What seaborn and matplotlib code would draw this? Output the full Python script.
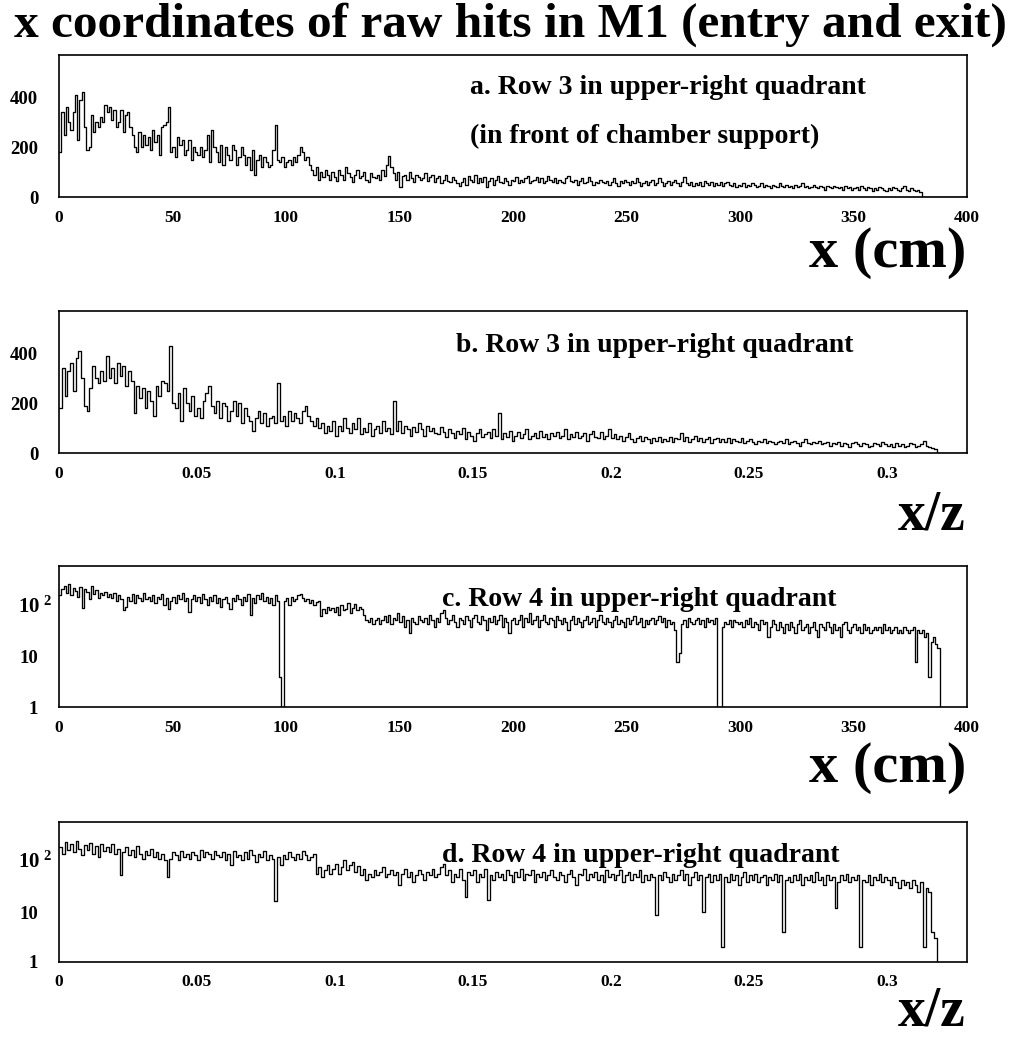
import numpy as np
import pandas as pd
import matplotlib
matplotlib.use("Agg")
import matplotlib.pyplot as plt
import matplotlib.transforms as mtransforms
from matplotlib.ticker import MultipleLocator, FixedLocator, FixedFormatter, NullFormatter
import seaborn as sns

# --- data (counts per bin) ---
bin_cm = 1.0      # bin width for the x (cm) histograms
bin_xz = 0.001    # bin width for the x/z histograms

# a. Row 3, x in cm (0..379 cm, then empty bins up to 400)
row3_cm = [
    180, 340, 250, 360, 300, 270, 340, 410, 230, 390, 420, 280, 190, 200, 330, 260, 300, 280, 320, 300,
    370, 340, 360, 310, 350, 280, 300, 350, 260, 330, 340, 280, 250, 200, 180, 260, 200, 250, 210, 240,
    190, 270, 220, 250, 170, 280, 290, 300, 360, 180, 200, 160, 240, 210, 230, 170, 190, 230, 150, 200,
    180, 170, 200, 160, 190, 250, 140, 270, 200, 180, 140, 210, 130, 200, 170, 150, 210, 190, 130, 160,
    200, 170, 130, 160, 110, 190, 90, 150, 170, 120, 160, 140, 120, 130, 190, 290, 150, 140, 160, 120,
    140, 150, 130, 160, 140, 170, 200, 180, 150, 160, 130, 110, 90, 120, 70, 100, 80, 110, 90, 70,
    100, 80, 65, 110, 90, 70, 120, 95, 80, 60, 90, 110, 75, 85, 100, 70, 60, 95, 80, 75,
    90, 70, 110, 85, 130, 165, 120, 95, 70, 100, 40, 85, 90, 70, 100, 75, 60, 90, 80, 70,
    75, 95, 65, 80, 90, 60, 75, 85, 55, 70, 90, 65, 60, 80, 70, 55, 45, 60, 75, 50,
    85, 70, 60, 90, 55, 75, 60, 80, 40, 65, 75, 50, 70, 85, 60, 55, 75, 65, 50, 70,
    65, 80, 55, 70, 60, 75, 85, 55, 65, 70, 80, 60, 75, 55, 65, 85, 70, 60, 75, 55,
    70, 60, 55, 75, 85, 65, 60, 70, 50, 65, 75, 55, 60, 80, 65, 50, 60, 55, 70, 60,
    55, 65, 50, 60, 75, 55, 45, 65, 55, 70, 60, 50, 65, 55, 75, 60, 45, 55, 65, 50,
    60, 70, 50, 55, 75, 60, 45, 55, 65, 50, 60, 70, 55, 45, 60, 80, 55, 50, 60, 45,
    55, 50, 60, 45, 65, 55, 50, 60, 45, 55, 50, 60, 45, 55, 60, 50, 45, 55, 40, 50,
    45, 55, 40, 50, 45, 55, 50, 40, 45, 55, 40, 50, 45, 35, 50, 45, 40, 55, 45, 40,
    50, 40, 45, 35, 50, 40, 45, 55, 40, 45, 35, 40, 50, 40, 35, 45, 40, 30, 45, 40,
    35, 45, 40, 35, 40, 30, 45, 35, 40, 30, 35, 40, 30, 45, 35, 30, 40, 35, 25, 35,
    30, 40, 35, 30, 25, 35, 30, 40, 35, 30, 25, 35, 45, 30, 25, 35, 30, 25, 30, 20,
    0, 0, 0, 0, 0, 0, 0, 0, 0, 0, 0, 0, 0, 0, 0, 0, 0, 0, 0, 0,
]

# b. Row 3, x/z (0..0.318, then empty bins)
row3_xz = [
    180, 340, 230, 330, 360, 250, 380, 410, 300, 190, 170, 260, 350, 300, 280, 330, 290, 390, 300, 340,
    280, 360, 310, 350, 270, 330, 290, 160, 270, 220, 260, 180, 250, 210, 150, 270, 230, 290, 280, 250,
    430, 200, 180, 240, 130, 260, 200, 170, 230, 150, 180, 140, 210, 240, 270, 190, 160, 210, 140, 200,
    190, 130, 170, 210, 150, 200, 120, 180, 150, 130, 90, 140, 170, 120, 160, 110, 140, 150, 120, 280,
    130, 150, 110, 170, 130, 160, 140, 120, 170, 190, 150, 130, 110, 140, 100, 120, 80, 110, 90, 130,
    70, 110, 90, 140, 100, 80, 120, 95, 140, 75, 100, 85, 120, 70, 95, 110, 80, 130, 90, 100,
    75, 210, 90, 130, 80, 110, 95, 70, 105, 85, 120, 95, 70, 110, 90, 100, 80, 75, 105, 85,
    65, 95, 80, 60, 90, 75, 100, 55, 85, 70, 50, 80, 95, 65, 75, 85, 60, 95, 70, 160,
    55, 80, 65, 90, 50, 70, 85, 60, 75, 95, 55, 70, 80, 60, 90, 65, 75, 55, 80, 70,
    85, 60, 70, 95, 55, 75, 65, 85, 60, 70, 80, 50, 75, 90, 65, 60, 85, 55, 70, 95,
    60, 75, 55, 70, 50, 65, 80, 55, 45, 60, 70, 50, 65, 55, 40, 60, 50, 65, 45, 55,
    50, 65, 45, 60, 55, 80, 50, 65, 45, 55, 70, 50, 60, 45, 55, 65, 40, 55, 60, 45,
    55, 45, 60, 40, 55, 50, 45, 60, 40, 50, 55, 45, 35, 50, 45, 55, 40, 50, 45, 35,
    45, 50, 40, 55, 35, 45, 50, 40, 30, 45, 55, 40, 35, 45, 40, 50, 35, 40, 45, 30,
    40, 35, 45, 30, 40, 35, 25, 40, 45, 35, 30, 40, 35, 25, 30, 40, 35, 30, 45, 35,
    30, 35, 25, 40, 30, 35, 25, 30, 40, 35, 25, 30, 35, 50, 30, 25, 20, 15,
    0, 0, 0, 0, 0, 0, 0, 0, 0, 0, 0, 0,
]

# c. Row 4, x in cm (0..387 cm, then empty bins)
row4_cm = [
    170, 230, 260, 190, 280, 170, 240, 210, 160, 250, 95, 230, 200, 140, 260, 180, 220, 150, 190, 170,
    200, 160, 180, 150, 190, 130, 170, 140, 85, 100, 160, 130, 180, 120, 170, 150, 130, 190, 140, 160,
    130, 170, 120, 160, 140, 180, 110, 150, 90, 130, 160, 120, 170, 140, 190, 130, 150, 80, 140, 170,
    130, 160, 120, 180, 140, 110, 160, 130, 170, 120, 150, 100, 140, 160, 120, 90, 150, 130, 170, 140,
    110, 160, 130, 180, 70, 150, 120, 170, 140, 190, 130, 160, 120, 150, 110, 170, 130, 4, 1, 130,
    150, 110, 160, 130, 140, 170, 180, 150, 130, 140, 120, 135, 110, 125, 130, 65, 90, 75, 100, 85,
    95, 80, 100, 70, 110, 85, 90, 120, 75, 95, 115, 85, 100, 90, 70, 55, 50, 60, 45, 55,
    60, 45, 55, 65, 50, 70, 45, 60, 55, 75, 50, 65, 40, 55, 30, 60, 50, 45, 65, 55,
    50, 60, 45, 70, 55, 40, 60, 50, 75, 85, 60, 45, 55, 70, 50, 40, 60, 55, 45, 65,
    55, 40, 60, 70, 50, 45, 65, 55, 35, 60, 50, 65, 45, 55, 70, 40, 60, 50, 30, 55,
    60, 45, 55, 70, 40, 60, 50, 75, 45, 55, 65, 40, 55, 70, 50, 45, 60, 55, 40, 65,
    55, 45, 60, 50, 35, 55, 65, 45, 60, 50, 40, 55, 65, 45, 50, 60, 40, 55, 70, 50,
    45, 60, 50, 40, 55, 65, 45, 55, 50, 40, 60, 45, 55, 65, 45, 50, 60, 40, 55, 45,
    55, 60, 45, 55, 65, 50, 60, 40, 55, 45, 50, 35, 8, 12, 45, 55, 40, 60, 50, 45,
    55, 60, 45, 55, 40, 60, 50, 55, 45, 60, 1, 1, 40, 50, 45, 55, 40, 55, 50, 45,
    50, 40, 55, 45, 60, 40, 50, 45, 35, 55, 45, 50, 25, 40, 55, 45, 35, 50, 40, 30,
    45, 35, 50, 40, 30, 45, 55, 35, 40, 45, 30, 40, 50, 35, 25, 45, 40, 35, 50, 40,
    30, 45, 35, 40, 25, 45, 50, 35, 30, 40, 45, 35, 40, 30, 45, 35, 40, 30, 35, 40,
    35, 40, 30, 45, 35, 40, 30, 35, 40, 30, 35, 30, 40, 35, 30, 35, 40, 8, 35, 30,
    35, 25, 30, 4, 20, 25, 18, 15,
    0, 0, 0, 0, 0, 0, 0, 0, 0, 0, 0, 0,
]

# d. Row 4, x/z (0..0.318, then empty bins)
row4_xz = [
    200, 150, 260, 180, 230, 160, 270, 190, 140, 220, 180, 250, 150, 210, 130, 240, 170, 200, 160, 230,
    150, 190, 55, 160, 200, 140, 180, 130, 210, 150, 120, 170, 140, 190, 130, 160, 120, 150, 110, 50,
    120, 160, 140, 110, 170, 130, 150, 120, 160, 140, 110, 180, 130, 160, 150, 120, 170, 140, 130, 160,
    110, 150, 90, 170, 130, 140, 110, 160, 120, 180, 140, 100, 150, 130, 170, 110, 140, 120, 17, 130,
    90, 140, 120, 160, 130, 110, 150, 120, 170, 140, 110, 130, 150, 60, 80, 50, 70, 90, 60, 75,
    95, 60, 80, 110, 70, 90, 100, 65, 85, 55, 75, 45, 60, 50, 70, 55, 65, 80, 50, 60,
    70, 55, 65, 35, 60, 75, 50, 65, 40, 55, 70, 60, 45, 65, 55, 75, 50, 60, 80, 95,
    55, 70, 40, 60, 50, 75, 45, 20, 65, 55, 70, 40, 60, 50, 75, 18, 55, 45, 65, 50,
    60, 45, 70, 55, 40, 65, 50, 75, 45, 60, 55, 70, 40, 60, 50, 65, 45, 55, 70, 50,
    45, 65, 55, 40, 60, 70, 50, 35, 60, 55, 75, 45, 60, 50, 65, 45, 55, 40, 70, 50,
    60, 45, 55, 70, 40, 55, 65, 45, 60, 50, 70, 40, 55, 45, 60, 50, 9, 55, 45, 65,
    50, 40, 60, 45, 55, 70, 45, 60, 35, 50, 65, 45, 55, 10, 50, 60, 40, 55, 45, 60,
    2, 50, 40, 60, 45, 55, 35, 50, 65, 40, 55, 45, 60, 40, 50, 55, 35, 50, 45, 60,
    40, 55, 4, 45, 50, 40, 55, 45, 60, 35, 50, 45, 55, 40, 65, 45, 50, 35, 55, 45,
    50, 12, 40, 55, 45, 60, 40, 50, 45, 55, 2, 45, 40, 55, 35, 50, 45, 60, 40, 50,
    45, 35, 50, 40, 30, 45, 35, 40, 30, 45, 35, 25, 40, 2, 30, 25, 4, 3,
    0, 0, 0, 0, 0, 0, 0, 0, 0, 0, 0, 0,
]

main_title = "x coordinates of raw hits in M1 (entry and exit)"
notes = [
    ["a. Row 3 in upper-right quadrant", "(in front of chamber support)"],
    ["b. Row 3 in upper-right quadrant"],
    ["c. Row 4 in upper-right quadrant"],
    ["d. Row 4 in upper-right quadrant"],
]
axis_titles = ["x (cm)", "x/z", "x (cm)", "x/z"]

# --- style ---
sns.set_style("white")
plt.rcParams["font.family"] = ["Liberation Serif", "DejaVu Serif"]
plt.rcParams["font.weight"] = "bold"
plt.rcParams["text.color"] = "black"
plt.rcParams["axes.labelcolor"] = "black"
plt.rcParams["xtick.color"] = "black"
plt.rcParams["ytick.color"] = "black"
plt.rcParams["mathtext.fontset"] = "custom"
plt.rcParams["mathtext.rm"] = "Liberation Serif:bold"
plt.rcParams["mathtext.it"] = "Liberation Serif:bold"
plt.rcParams["mathtext.bf"] = "Liberation Serif:bold"

W, H = 1020, 1041
fig = plt.figure(figsize=(W / 100, H / 100), dpi=100)

# frames in pixels: (top, bottom)
frames = [(55, 197), (311, 453), (566, 707), (822, 962)]
left_px, right_px = 59, 967

series = [(row3_cm, bin_cm, False), (row3_xz, bin_xz, False),
          (row4_cm, bin_cm, True), (row4_xz, bin_xz, True)]

note_pos = [(470, 88), (456, 345), (442, 600), (442, 855)]
label_y = [253, 515, 768, 1012]
label_size = [42, 40, 42, 40]

for i, ((top, bot), (counts, width, logy)) in enumerate(zip(frames, series)):
    ax = fig.add_axes([left_px / W, 1 - bot / H, (right_px - left_px) / W, (bot - top) / H])
    counts = np.asarray(counts, dtype=float)
    edges = np.arange(len(counts) + 1) * width
    df = pd.DataFrame({"x": edges[:-1] + width / 2, "n": counts})
    sns.histplot(data=df, x="x", weights="n", bins=edges.tolist(), element="step",
                 fill=False, color="black", linewidth=0.95, ax=ax)
    ax.set_xlabel("")
    ax.set_ylabel("")

    if width == bin_cm:
        ax.set_xlim(0, 400)
        ax.xaxis.set_major_locator(MultipleLocator(50))
        ax.xaxis.set_minor_locator(MultipleLocator(10))
    else:
        ax.set_xlim(0, 0.329)
        ax.xaxis.set_major_locator(MultipleLocator(0.05))
        ax.xaxis.set_minor_locator(MultipleLocator(0.01))
    ax.xaxis.set_major_formatter(plt.FuncFormatter(lambda v, p: f"{v:g}"))

    if logy:
        ax.set_yscale("log")
        ax.set_ylim(1, 650)
        ax.yaxis.set_major_locator(FixedLocator([1, 10, 100]))
        ax.yaxis.set_major_formatter(FixedFormatter(["1", "10", ""]))
        minors = [m * d for d in (1, 10, 100) for m in range(2, 10)]
        ax.yaxis.set_minor_locator(FixedLocator(minors))
        ax.yaxis.set_minor_formatter(NullFormatter())
        trans = mtransforms.blended_transform_factory(ax.transAxes, ax.transData)
        ax.text(-7 / (right_px - left_px), 100, r"$10^{\ 2}$", transform=trans,
                ha="right", va="center", fontsize=15)
    else:
        ax.set_ylim(0, 568)
        ax.yaxis.set_major_locator(MultipleLocator(200))
        ax.yaxis.set_minor_locator(MultipleLocator(50))

    ax.tick_params(which="both", direction="in", top=False, right=False, colors="black")
    ax.tick_params(axis="x", labelsize=12.5, pad=9)
    ax.tick_params(axis="y", labelsize=13.5, pad=15)
    ax.tick_params(which="major", length=12, width=0.9)
    ax.tick_params(which="minor", length=6, width=0.9)
    for lab in ax.get_xticklabels() + ax.get_yticklabels():
        lab.set_fontweight("bold")
    for s in ax.spines.values():
        s.set_color("black")
        s.set_linewidth(1.2)

    nx, ny = note_pos[i]
    for k, line in enumerate(notes[i]):
        fig.text(nx / W, 1 - (ny + 48 * k) / H, line, fontsize=20, fontweight="bold",
                 ha="left", va="center")
    fig.text(966 / W, 1 - label_y[i] / H, axis_titles[i], fontsize=label_size[i],
             fontweight="bold", ha="right", va="center")

fig.text(0.5, 1 - 25 / H, main_title, fontsize=35.5, fontweight="bold",
         ha="center", va="center")

fig.savefig("out.png", dpi=100, facecolor="white")
